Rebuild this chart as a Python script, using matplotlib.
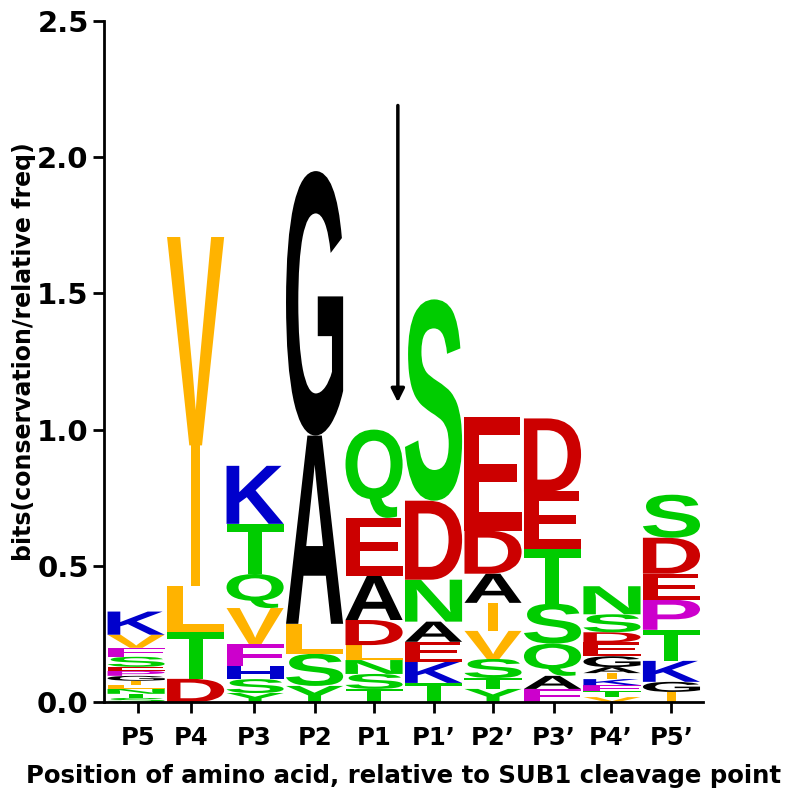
import matplotlib
matplotlib.use('Agg')
import matplotlib.pyplot as plt
from matplotlib.textpath import TextPath
from matplotlib.patches import PathPatch
from matplotlib.font_manager import FontProperties
from matplotlib.transforms import Affine2D

# stacks, bottom to top (letters) and heights in bits
p5_letters = ['S', 'T', 'N', 'L', 'I', 'G', 'P', 'E', 'S', 'F', 'V', 'K']
p5_bits = [0.015, 0.015, 0.018, 0.015, 0.015, 0.018, 0.018, 0.015, 0.037, 0.033, 0.048, 0.085]
p4_letters = ['D', 'T', 'L', 'I', 'V']
p4_bits = [0.085, 0.173, 0.169, 0.515, 0.765]
p3_letters = ['Y', 'S', 'H', 'F', 'V', 'Q', 'T', 'K']
p3_bits = [0.033, 0.051, 0.048, 0.081, 0.132, 0.125, 0.184, 0.213]
p2_letters = ['Y', 'S', 'L', 'A', 'G']
p2_bits = [0.059, 0.118, 0.110, 0.691, 0.971]
p1_letters = ['T', 'S', 'N', 'L', 'D', 'A', 'E', 'Q']
p1_bits = [0.048, 0.055, 0.051, 0.055, 0.092, 0.162, 0.213, 0.324]
p1p_letters = ['T', 'K', 'E', 'A', 'N', 'D', 'S']
p1p_bits = [0.070, 0.077, 0.074, 0.074, 0.154, 0.290, 0.739]
p2p_letters = ['Y', 'T', 'S', 'V', 'I', 'A', 'D', 'E']
p2p_bits = [0.048, 0.040, 0.070, 0.103, 0.103, 0.107, 0.158, 0.419]
p3p_letters = ['F', 'A', 'Q', 'S', 'T', 'E', 'D']
p3p_bits = [0.048, 0.048, 0.118, 0.147, 0.202, 0.210, 0.268]
p4p_letters = ['V', 'T', 'F', 'K', 'I', 'A', 'G', 'E', 'D', 'S', 'N']
p4p_bits = [0.018, 0.022, 0.022, 0.022, 0.022, 0.022, 0.040, 0.051, 0.037, 0.066, 0.103]
p5p_letters = ['I', 'G', 'K', 'T', 'P', 'E', 'D', 'S']
p5p_bits = [0.037, 0.037, 0.077, 0.114, 0.110, 0.096, 0.132, 0.158]

positions = ['P5', 'P4', 'P3', 'P2', 'P1', 'P1\u2019', 'P2\u2019', 'P3\u2019', 'P4\u2019', 'P5\u2019']
tick_pos = [1.03, 1.92, 2.98, 4.01, 5.0, 6.01, 7.0, 8.02, 8.98, 10.0]

stacks = [(p5_letters, p5_bits), (p4_letters, p4_bits), (p3_letters, p3_bits),
          (p2_letters, p2_bits), (p1_letters, p1_bits), (p1p_letters, p1p_bits),
          (p2p_letters, p2p_bits), (p3p_letters, p3p_bits), (p4p_letters, p4p_bits),
          (p5p_letters, p5p_bits)]

green = '#00CC00'
red = '#CC0000'
blue = '#0000CC'
orange = '#FFB300'
purple = '#CC00CC'
colors = {'A': 'black', 'G': 'black', 'C': green, 'S': green, 'T': green, 'Y': green,
          'N': green, 'Q': green, 'D': red, 'E': red, 'K': blue, 'R': blue, 'H': blue,
          'L': orange, 'V': orange, 'I': orange, 'M': orange, 'F': purple, 'P': purple,
          'W': orange}

letter_font = FontProperties(family='Liberation Sans', weight='bold')
label_font = 'DejaVu Sans'


def draw_letter(ax, ch, x, y, w, h):
    tp = TextPath((0, 0), ch, size=1, prop=letter_font)
    bb = tp.get_extents()
    if ch == 'I':
        w = w * 0.17  # narrow glyph keeps its own width
    tr = Affine2D().translate(-bb.x0, -bb.y0).scale(w / bb.width, h / bb.height).translate(x - w / 2, y)
    ax.add_patch(PathPatch(tr.transform_path(tp), facecolor=colors[ch], edgecolor='none', lw=0))


fig = plt.figure(figsize=(7.98, 7.96), dpi=100)
ax = fig.add_axes([104 / 798, 1 - 702 / 796, (703 - 104) / 798, (702 - 21) / 796])

for i, (letters, bits) in enumerate(stacks):
    y = 0
    for ch, b in zip(letters, bits):
        draw_letter(ax, ch, i + 1, y, 0.96, b)
        y += b

ax.annotate('', xy=(5.4, 1.09), xytext=(5.4, 2.2),
            arrowprops=dict(arrowstyle='-|>', color='black', lw=2.5, mutation_scale=20))

ax.set_xlim(0.46, 10.53)
ax.set_ylim(0, 2.5)
ax.set_xticks(tick_pos)
ax.set_xticklabels(positions, fontsize=17.5, fontweight='bold', family=label_font)
ax.set_yticks([0, 0.5, 1.0, 1.5, 2.0, 2.5])
ax.set_yticklabels(['0.0', '0.5', '1.0', '1.5', '2.0', '2.5'], fontsize=21, fontweight='bold', family=label_font)
ax.tick_params(axis='both', width=2, length=8, direction='out', pad=3)
ax.tick_params(axis='x', pad=9)
for s in ['top', 'right']:
    ax.spines[s].set_visible(False)
for s in ['left', 'bottom']:
    ax.spines[s].set_linewidth(2)

ax.set_ylabel('bits(conservation/relative freq)', fontsize=17, fontweight='bold', family=label_font)
ax.yaxis.set_label_coords(-0.113, 0.514)
ax.set_xlabel('Position of amino acid, relative to SUB1 cleavage point', fontsize=17.6,
              fontweight='bold', family=label_font, labelpad=10)

plt.savefig('out.png', dpi=100)
